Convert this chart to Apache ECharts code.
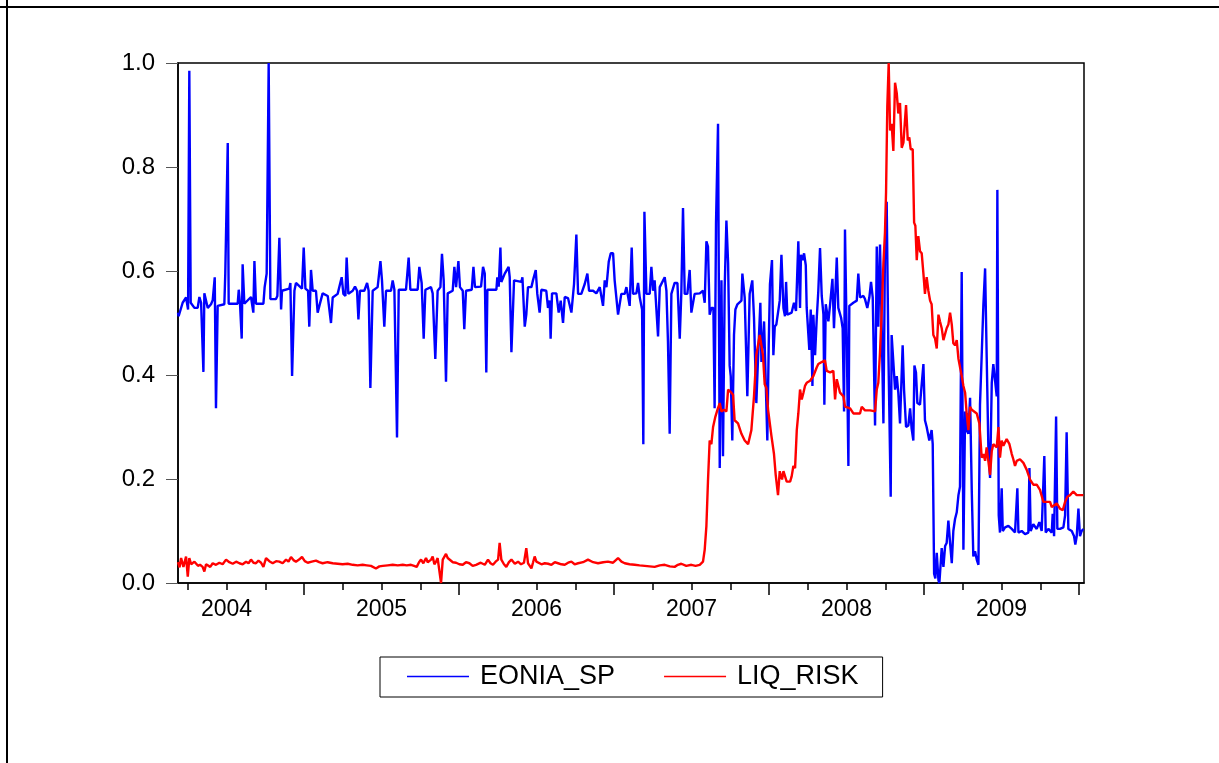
<!DOCTYPE html>
<html><head><meta charset="utf-8">
<script src="https://cdn.jsdelivr.net/npm/echarts@6/dist/echarts.min.js"></script>
<style>html,body{margin:0;padding:0;background:#fff}#c{width:1219px;height:763px}</style>
</head><body><div id="c"></div><script>
const seriesNames = ['EONIA_SP', 'LIQ_RISK'];
const yearLabels = ['2004', '2005', '2006', '2007', '2008', '2009'];
const yearCenters = [2004.5, 2005.5, 2006.5, 2007.5, 2008.5, 2009.5];
const yearBounds = [2005, 2006, 2007, 2008, 2009, 2010];
const quarterTicks = [2004.25, 2004.5, 2004.75, 2005.25, 2005.5, 2005.75, 2006.25, 2006.5, 2006.75,
  2007.25, 2007.5, 2007.75, 2008.25, 2008.5, 2008.75, 2009.25, 2009.5, 2009.75];
const xRange = [2004.187, 2010.032];
const yTicks = [0, 1, 0.2];

// [decimal year, value]
const eoniaSp = [
[2004.187,0.520],[2004.191,0.513],[2004.217,0.539],[2004.239,0.549],[2004.252,0.526],[2004.260,0.985],[2004.269,0.539],[2004.293,0.529],[2004.314,0.529],[2004.325,0.550],[2004.336,0.539],[2004.351,0.406],[2004.357,0.557],[2004.379,0.529],[2004.400,0.536],[2004.411,0.544],[2004.424,0.588],[2004.432,0.336],[2004.443,0.533],[2004.486,0.536],[2004.492,0.595],[2004.508,0.846],[2004.514,0.537],[2004.572,0.537],[2004.579,0.564],[2004.587,0.537],[2004.598,0.470],[2004.604,0.613],[2004.615,0.537],[2004.658,0.550],[2004.673,0.520],[2004.680,0.619],[2004.690,0.537],[2004.738,0.537],[2004.746,0.569],[2004.759,0.595],[2004.772,1.000],[2004.783,0.546],[2004.819,0.546],[2004.828,0.552],[2004.841,0.664],[2004.852,0.526],[2004.858,0.562],[2004.905,0.566],[2004.912,0.577],[2004.923,0.398],[2004.938,0.562],[2004.948,0.577],[2004.987,0.566],[2004.998,0.645],
[2005.009,0.566],[2005.026,0.562],[2005.034,0.493],[2005.045,0.602],[2005.056,0.562],[2005.077,0.562],[2005.088,0.520],[2005.099,0.533],[2005.120,0.557],[2005.153,0.552],[2005.174,0.500],[2005.185,0.549],[2005.217,0.556],[2005.243,0.588],[2005.254,0.556],[2005.267,0.552],[2005.275,0.626],[2005.286,0.556],[2005.314,0.562],[2005.329,0.570],[2005.342,0.562],[2005.351,0.507],[2005.361,0.562],[2005.389,0.562],[2005.407,0.577],[2005.417,0.562],[2005.428,0.375],[2005.443,0.562],[2005.475,0.569],[2005.493,0.619],[2005.503,0.582],[2005.518,0.493],[2005.529,0.562],[2005.561,0.562],[2005.572,0.582],[2005.583,0.564],[2005.600,0.280],[2005.611,0.564],[2005.658,0.564],[2005.675,0.626],[2005.686,0.564],[2005.733,0.564],[2005.744,0.608],[2005.759,0.577],[2005.772,0.470],[2005.783,0.564],[2005.819,0.569],[2005.830,0.557],[2005.847,0.431],[2005.862,0.562],[2005.880,0.569],[2005.890,0.633],[2005.901,0.582],[2005.916,0.387],[2005.927,0.557],[2005.959,0.562],[2005.970,0.608],[2005.981,0.569],[2005.996,0.619],
[2006.006,0.569],[2006.024,0.562],[2006.034,0.488],[2006.045,0.562],[2006.082,0.564],[2006.093,0.608],[2006.103,0.569],[2006.142,0.570],[2006.155,0.608],[2006.166,0.595],[2006.176,0.405],[2006.183,0.564],[2006.241,0.564],[2006.247,0.588],[2006.256,0.570],[2006.267,0.645],[2006.273,0.579],[2006.295,0.595],[2006.305,0.592],[2006.320,0.608],[2006.327,0.588],[2006.338,0.444],[2006.355,0.582],[2006.402,0.579],[2006.409,0.588],[2006.424,0.493],[2006.434,0.516],[2006.445,0.569],[2006.467,0.569],[2006.477,0.582],[2006.495,0.602],[2006.505,0.556],[2006.520,0.520],[2006.531,0.564],[2006.563,0.562],[2006.574,0.529],[2006.585,0.543],[2006.591,0.470],[2006.600,0.557],[2006.628,0.557],[2006.643,0.520],[2006.656,0.543],[2006.671,0.500],[2006.682,0.550],[2006.703,0.548],[2006.725,0.520],[2006.742,0.575],[2006.757,0.670],[2006.768,0.556],[2006.789,0.556],[2006.811,0.575],[2006.828,0.595],[2006.839,0.562],[2006.865,0.562],[2006.886,0.557],[2006.908,0.569],[2006.929,0.533],[2006.940,0.582],[2006.951,0.569],[2006.966,0.618],[2006.979,0.634],[2006.994,0.634],
[2007.004,0.582],[2007.026,0.516],[2007.037,0.513],[2007.047,0.556],[2007.069,0.556],[2007.080,0.569],[2007.101,0.533],[2007.114,0.645],[2007.123,0.556],[2007.144,0.557],[2007.155,0.577],[2007.166,0.549],[2007.181,0.526],[2007.189,0.267],[2007.196,0.714],[2007.209,0.556],[2007.230,0.556],[2007.241,0.608],[2007.252,0.562],[2007.262,0.582],[2007.284,0.474],[2007.295,0.569],[2007.327,0.588],[2007.338,0.562],[2007.348,0.464],[2007.359,0.287],[2007.370,0.556],[2007.391,0.577],[2007.409,0.577],[2007.424,0.470],[2007.434,0.556],[2007.445,0.721],[2007.456,0.556],[2007.473,0.556],[2007.488,0.602],[2007.499,0.520],[2007.520,0.556],[2007.553,0.557],[2007.574,0.562],[2007.585,0.539],[2007.596,0.657],[2007.606,0.647],[2007.617,0.516],[2007.628,0.529],[2007.641,0.529],[2007.649,0.336],[2007.658,0.693],[2007.671,0.883],[2007.682,0.221],[2007.693,0.582],[2007.703,0.244],[2007.714,0.569],[2007.725,0.697],[2007.736,0.615],[2007.746,0.418],[2007.753,0.398],[2007.763,0.274],[2007.774,0.477],[2007.783,0.526],[2007.796,0.536],[2007.822,0.543],[2007.828,0.595],[2007.843,0.549],[2007.860,0.359],[2007.875,0.556],[2007.892,0.582],[2007.903,0.510],[2007.918,0.346],[2007.929,0.431],[2007.944,0.539],[2007.951,0.425],[2007.968,0.503],[2007.989,0.274],[2007.998,0.457],
[2008.006,0.575],[2008.019,0.621],[2008.028,0.438],[2008.037,0.493],[2008.047,0.497],[2008.069,0.543],[2008.080,0.631],[2008.093,0.529],[2008.103,0.513],[2008.110,0.579],[2008.118,0.516],[2008.146,0.520],[2008.161,0.539],[2008.174,0.523],[2008.189,0.657],[2008.200,0.529],[2008.206,0.631],[2008.217,0.621],[2008.226,0.634],[2008.237,0.611],[2008.243,0.529],[2008.260,0.448],[2008.269,0.526],[2008.280,0.379],[2008.286,0.516],[2008.297,0.438],[2008.308,0.510],[2008.318,0.562],[2008.329,0.644],[2008.340,0.552],[2008.351,0.516],[2008.357,0.343],[2008.366,0.536],[2008.383,0.503],[2008.394,0.536],[2008.409,0.585],[2008.419,0.490],[2008.437,0.626],[2008.447,0.529],[2008.465,0.510],[2008.475,0.490],[2008.484,0.330],[2008.490,0.680],[2008.501,0.477],[2008.512,0.225],[2008.518,0.533],[2008.544,0.539],[2008.566,0.543],[2008.576,0.595],[2008.587,0.549],[2008.609,0.552],[2008.619,0.546],[2008.634,0.529],[2008.647,0.549],[2008.658,0.579],[2008.669,0.549],[2008.684,0.303],[2008.695,0.647],[2008.705,0.493],[2008.716,0.651],[2008.727,0.490],[2008.738,0.307],[2008.748,0.638],[2008.759,0.733],[2008.770,0.444],[2008.785,0.166],[2008.791,0.477],[2008.802,0.425],[2008.813,0.372],[2008.824,0.398],[2008.834,0.366],[2008.845,0.307],[2008.862,0.457],[2008.871,0.372],[2008.884,0.300],[2008.899,0.303],[2008.910,0.336],[2008.920,0.297],[2008.931,0.274],[2008.938,0.418],[2008.948,0.405],[2008.957,0.346],[2008.974,0.343],[2008.985,0.346],[2008.996,0.421],
[2009.006,0.313],[2009.017,0.300],[2009.034,0.274],[2009.049,0.294],[2009.056,0.267],[2009.065,0.018],[2009.073,0.009],[2009.082,0.058],[2009.093,0.005],[2009.099,0.000],[2009.114,0.067],[2009.125,0.031],[2009.136,0.071],[2009.146,0.077],[2009.157,0.120],[2009.168,0.077],[2009.179,0.038],[2009.189,0.100],[2009.200,0.123],[2009.211,0.136],[2009.222,0.169],[2009.232,0.185],[2009.243,0.598],[2009.254,0.064],[2009.265,0.330],[2009.275,0.294],[2009.286,0.287],[2009.297,0.356],[2009.308,0.176],[2009.318,0.051],[2009.329,0.061],[2009.340,0.045],[2009.351,0.035],[2009.361,0.343],[2009.372,0.438],[2009.383,0.536],[2009.394,0.605],[2009.404,0.438],[2009.415,0.261],[2009.426,0.202],[2009.437,0.385],[2009.447,0.421],[2009.458,0.418],[2009.469,0.359],[2009.473,0.756],[2009.482,0.130],[2009.490,0.097],[2009.501,0.182],[2009.508,0.100],[2009.523,0.107],[2009.544,0.110],[2009.566,0.104],[2009.576,0.107],[2009.587,0.097],[2009.602,0.182],[2009.609,0.097],[2009.630,0.100],[2009.652,0.094],[2009.673,0.097],[2009.680,0.221],[2009.688,0.100],[2009.705,0.113],[2009.727,0.104],[2009.744,0.117],[2009.759,0.100],[2009.776,0.244],[2009.785,0.097],[2009.802,0.104],[2009.824,0.097],[2009.830,0.133],[2009.839,0.090],[2009.852,0.320],[2009.860,0.104],[2009.877,0.104],[2009.899,0.107],[2009.910,0.130],[2009.920,0.290],[2009.931,0.104],[2009.953,0.100],[2009.968,0.090],[2009.976,0.074],[2009.985,0.090],[2009.996,0.143],[2010.006,0.090],[2010.017,0.100],[2010.028,0.104]
];

const liqRisk = [
[2004.187,0.040],[2004.197,0.030],[2004.207,0.048],[2004.222,0.031],[2004.239,0.051],[2004.250,0.012],[2004.260,0.048],[2004.272,0.036],[2004.282,0.035],[2004.293,0.041],[2004.303,0.038],[2004.316,0.033],[2004.329,0.035],[2004.346,0.031],[2004.357,0.022],[2004.368,0.036],[2004.379,0.035],[2004.395,0.031],[2004.411,0.038],[2004.432,0.035],[2004.454,0.039],[2004.475,0.036],[2004.497,0.045],[2004.518,0.040],[2004.540,0.037],[2004.562,0.041],[2004.583,0.038],[2004.604,0.036],[2004.626,0.041],[2004.642,0.038],[2004.658,0.045],[2004.674,0.039],[2004.690,0.038],[2004.706,0.043],[2004.723,0.039],[2004.738,0.031],[2004.755,0.048],[2004.776,0.042],[2004.798,0.038],[2004.820,0.042],[2004.841,0.041],[2004.862,0.038],[2004.884,0.045],[2004.900,0.041],[2004.916,0.050],[2004.932,0.044],[2004.948,0.041],[2004.968,0.045],[2004.987,0.050],
[2005.005,0.042],[2005.024,0.039],[2005.050,0.041],[2005.077,0.043],[2005.098,0.040],[2005.120,0.038],[2005.152,0.040],[2005.185,0.038],[2005.217,0.037],[2005.249,0.036],[2005.282,0.037],[2005.314,0.035],[2005.346,0.034],[2005.378,0.035],[2005.405,0.034],[2005.432,0.033],[2005.464,0.028],[2005.486,0.032],[2005.508,0.033],[2005.540,0.034],[2005.572,0.035],[2005.605,0.034],[2005.637,0.035],[2005.663,0.034],[2005.690,0.035],[2005.710,0.033],[2005.727,0.031],[2005.742,0.040],[2005.755,0.045],[2005.770,0.038],[2005.787,0.048],[2005.798,0.040],[2005.809,0.037],[2005.820,0.045],[2005.830,0.051],[2005.841,0.036],[2005.852,0.041],[2005.862,0.048],[2005.873,0.051],[2005.884,0.000],[2005.895,0.045],[2005.916,0.056],[2005.927,0.048],[2005.938,0.045],[2005.960,0.040],[2005.981,0.039],
[2006.002,0.036],[2006.024,0.035],[2006.045,0.040],[2006.067,0.038],[2006.088,0.033],[2006.110,0.035],[2006.140,0.039],[2006.166,0.035],[2006.187,0.045],[2006.203,0.038],[2006.219,0.035],[2006.236,0.041],[2006.252,0.045],[2006.262,0.077],[2006.273,0.045],[2006.290,0.036],[2006.305,0.031],[2006.322,0.040],[2006.338,0.045],[2006.360,0.037],[2006.381,0.041],[2006.400,0.036],[2006.419,0.039],[2006.434,0.067],[2006.445,0.038],[2006.456,0.033],[2006.467,0.028],[2006.478,0.040],[2006.488,0.051],[2006.499,0.041],[2006.510,0.038],[2006.532,0.036],[2006.553,0.038],[2006.575,0.037],[2006.596,0.035],[2006.618,0.040],[2006.639,0.038],[2006.660,0.036],[2006.682,0.035],[2006.704,0.039],[2006.725,0.041],[2006.746,0.036],[2006.768,0.038],[2006.800,0.040],[2006.832,0.045],[2006.865,0.040],[2006.897,0.038],[2006.930,0.040],[2006.961,0.041],[2006.994,0.039],
[2007.026,0.048],[2007.048,0.041],[2007.069,0.038],[2007.100,0.036],[2007.133,0.035],[2007.165,0.034],[2007.198,0.033],[2007.230,0.032],[2007.262,0.031],[2007.295,0.034],[2007.327,0.035],[2007.360,0.032],[2007.391,0.031],[2007.412,0.035],[2007.434,0.037],[2007.466,0.033],[2007.499,0.035],[2007.526,0.033],[2007.553,0.035],[2007.574,0.041],[2007.585,0.064],[2007.596,0.110],[2007.606,0.195],[2007.617,0.274],[2007.628,0.267],[2007.639,0.300],[2007.654,0.320],[2007.667,0.333],[2007.682,0.346],[2007.693,0.330],[2007.710,0.333],[2007.725,0.330],[2007.736,0.372],[2007.746,0.375],[2007.757,0.366],[2007.768,0.362],[2007.778,0.313],[2007.800,0.307],[2007.822,0.287],[2007.843,0.274],[2007.865,0.267],[2007.875,0.267],[2007.886,0.294],[2007.903,0.359],[2007.918,0.438],[2007.940,0.477],[2007.951,0.480],[2007.961,0.438],[2007.972,0.382],[2007.983,0.375],[2007.994,0.333],
[2008.015,0.284],[2008.032,0.248],[2008.043,0.208],[2008.058,0.169],[2008.069,0.215],[2008.084,0.199],[2008.093,0.215],[2008.103,0.218],[2008.114,0.195],[2008.136,0.195],[2008.146,0.205],[2008.157,0.225],[2008.168,0.221],[2008.179,0.294],[2008.189,0.326],[2008.200,0.372],[2008.211,0.353],[2008.222,0.366],[2008.232,0.379],[2008.243,0.385],[2008.265,0.389],[2008.286,0.398],[2008.308,0.415],[2008.318,0.421],[2008.340,0.425],[2008.361,0.428],[2008.372,0.408],[2008.394,0.405],[2008.415,0.408],[2008.426,0.353],[2008.437,0.392],[2008.458,0.366],[2008.480,0.359],[2008.490,0.339],[2008.523,0.336],[2008.544,0.326],[2008.587,0.326],[2008.598,0.339],[2008.619,0.332],[2008.652,0.332],[2008.684,0.330],[2008.695,0.372],[2008.705,0.385],[2008.716,0.444],[2008.727,0.523],[2008.738,0.615],[2008.748,0.674],[2008.755,0.752],[2008.763,0.916],[2008.772,1.000],[2008.781,0.870],[2008.791,0.883],[2008.802,0.831],[2008.813,0.962],[2008.824,0.942],[2008.834,0.903],[2008.845,0.923],[2008.856,0.837],[2008.867,0.847],[2008.877,0.844],[2008.884,0.919],[2008.895,0.851],[2008.905,0.857],[2008.914,0.834],[2008.927,0.834],[2008.936,0.693],[2008.944,0.687],[2008.953,0.621],[2008.963,0.667],[2008.974,0.638],[2008.985,0.634],[2008.996,0.595],
[2009.006,0.556],[2009.017,0.588],[2009.028,0.562],[2009.039,0.543],[2009.049,0.536],[2009.060,0.477],[2009.071,0.470],[2009.082,0.451],[2009.093,0.516],[2009.103,0.503],[2009.114,0.490],[2009.125,0.467],[2009.136,0.470],[2009.146,0.490],[2009.157,0.497],[2009.168,0.520],[2009.179,0.497],[2009.189,0.461],[2009.200,0.457],[2009.211,0.467],[2009.222,0.431],[2009.232,0.428],[2009.243,0.398],[2009.254,0.379],[2009.265,0.366],[2009.275,0.326],[2009.286,0.294],[2009.297,0.339],[2009.308,0.333],[2009.318,0.333],[2009.340,0.326],[2009.357,0.307],[2009.372,0.241],[2009.383,0.248],[2009.394,0.235],[2009.404,0.261],[2009.415,0.261],[2009.426,0.208],[2009.437,0.254],[2009.447,0.267],[2009.458,0.264],[2009.469,0.261],[2009.480,0.300],[2009.490,0.241],[2009.501,0.274],[2009.512,0.264],[2009.533,0.277],[2009.551,0.267],[2009.566,0.248],[2009.576,0.238],[2009.587,0.225],[2009.598,0.235],[2009.619,0.238],[2009.641,0.231],[2009.662,0.218],[2009.673,0.221],[2009.684,0.199],[2009.705,0.189],[2009.727,0.189],[2009.748,0.179],[2009.770,0.156],[2009.791,0.156],[2009.813,0.156],[2009.824,0.146],[2009.834,0.143],[2009.856,0.153],[2009.877,0.143],[2009.895,0.140],[2009.910,0.156],[2009.925,0.166],[2009.942,0.169],[2009.963,0.176],[2009.985,0.169],[2010.006,0.169],[2010.028,0.169]
];

const FONT = 'Liberation Sans, Arial, sans-serif';
const chart = echarts.init(document.getElementById('c'), null, {renderer: 'canvas'});
chart.setOption({
  animation: false,
  backgroundColor: '#fff',
  grid: {left: 178, top: 63, right: 135, bottom: 180, show: true, borderColor: '#000', borderWidth: 1.5,
         backgroundColor: 'transparent', containLabel: false, outerBoundsMode: 'none'},
  legend: {
    data: seriesNames, left: 380, top: 657, orient: 'horizontal',
    itemWidth: 62, itemHeight: 1.5, itemGap: 49, icon: 'rect',
    padding: [6, 24, 7, 27], borderColor: '#000', borderWidth: 1,
    textStyle: {fontSize: 27, color: '#000', fontFamily: FONT, padding: [0, 0, 0, 6]}
  },
  xAxis: [
    {type: 'value', min: xRange[0], max: xRange[1], position: 'bottom',
     axisLine: {show: true, onZero: false, lineStyle: {color: '#000', width: 1.5}},
     axisTick: {show: true, customValues: quarterTicks, length: 7, lineStyle: {color: '#000', width: 1.5}},
     axisLabel: {show: true, customValues: yearCenters, margin: 15, fontSize: 23, color: '#000', fontFamily: FONT,
                 formatter: function (v) { return yearLabels[Math.round(v - 2004.5)]; }},
     splitLine: {show: false}},
    {type: 'value', min: xRange[0], max: xRange[1], position: 'bottom',
     axisLine: {show: false, onZero: false},
     axisTick: {show: true, customValues: yearBounds, length: 12, lineStyle: {color: '#000', width: 1.5}},
     axisLabel: {show: false},
     splitLine: {show: false}}
  ],
  yAxis: {type: 'value', min: yTicks[0], max: yTicks[1], interval: yTicks[2],
     axisLine: {show: true, lineStyle: {color: '#000', width: 1.5}},
     axisTick: {show: true, length: 12, lineStyle: {color: '#555', width: 1}},
     axisLabel: {margin: 23, fontSize: 24, color: '#000', fontFamily: FONT,
                 formatter: function (v) { return v.toFixed(1); }},
     splitLine: {show: false}},
  graphic: [
    {type: 'line', shape: {x1: 0, y1: 7, x2: 1219, y2: 7}, style: {stroke: '#000', lineWidth: 2}, silent: true},
    {type: 'line', shape: {x1: 7, y1: 0, x2: 7, y2: 763}, style: {stroke: '#000', lineWidth: 2}, silent: true}
  ],
  series: [
    {name: seriesNames[0], type: 'line', data: eoniaSp, xAxisIndex: 0, showSymbol: false, symbol: 'none',
     color: '#0000FF', lineStyle: {color: '#0000FF', width: 2.4}, clip: true},
    {name: seriesNames[1], type: 'line', data: liqRisk, xAxisIndex: 0, showSymbol: false, symbol: 'none',
     color: '#FF0000', lineStyle: {color: '#FF0000', width: 2.4}, clip: true}
  ]
});
</script></body></html>
